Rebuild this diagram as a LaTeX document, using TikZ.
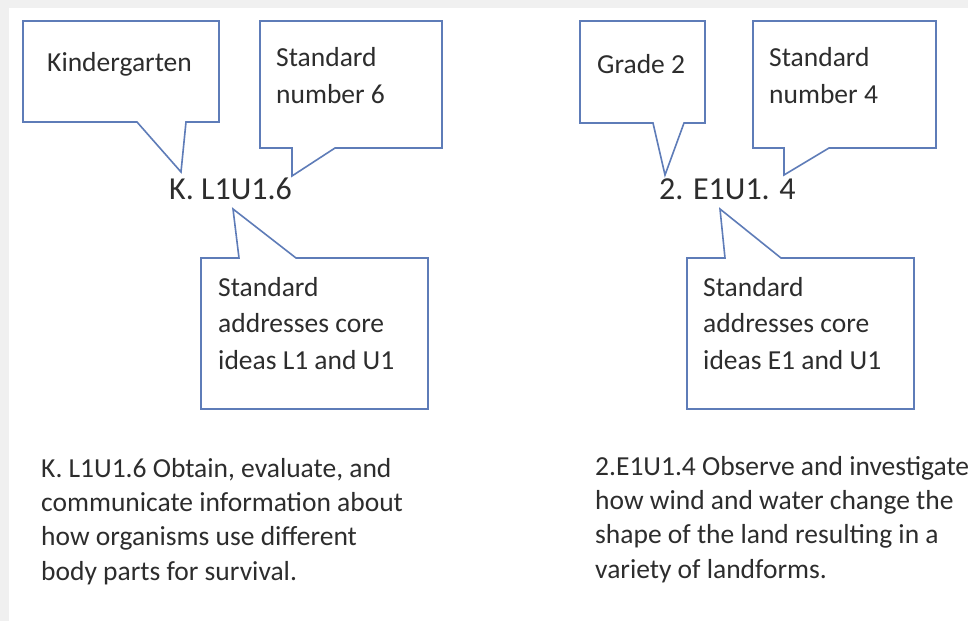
\documentclass[tikz,border=0pt]{standalone}
\usepackage{fontspec}
\setmainfont{Carlito}
\definecolor{lineblue}{RGB}{94,124,184}
\definecolor{txt}{RGB}{45,45,45}
\definecolor{framegray}{RGB}{240,240,240}
\begin{document}
\begin{tikzpicture}[x=1pt,y=-1pt,
  callout/.style={draw=lineblue, line width=1.6pt, line join=miter, fill=white},
  boxtext/.style={inner sep=0pt, anchor=base west, align=left, text=txt, font=\fontsize{27.5}{36.5}\selectfont},
  codetext/.style={inner sep=0pt, anchor=base west, text=txt, font=\fontsize{32}{38}\selectfont},
  bodytext/.style={inner sep=0pt, anchor=base west, align=left, text=txt, font=\fontsize{27.5}{34.3}\selectfont}]
\useasboundingbox (0,0) rectangle (968,621);
% page frame
\fill[framegray] (0,0) rectangle (968,621);
\fill[white] (9,8) rectangle (968,621);
% pointer tips
\coordinate (t1) at (181,172);
\coordinate (t2) at (292,176);
\coordinate (t3) at (233,209);
\coordinate (t4) at (665,175);
\coordinate (t5) at (784,175);
\coordinate (t6) at (720,209);
% left group callouts
\draw[callout] (23,21) -- (219,21) -- (219,122) -- (186,122) -- (t1) -- (137,122) -- (23,122) -- cycle;
\draw[callout] (260,21) -- (442,21) -- (442,148) -- (335,148) -- (t2) -- (292,148) -- (260,148) -- cycle;
\draw[callout] (201,258) -- (239,258) -- (t3) -- (296,258) -- (428,258) -- (428,409) -- (201,409) -- cycle;
% right group callouts
\draw[callout] (580,21) -- (705,21) -- (705,123) -- (684,123) -- (t4) -- (653,123) -- (580,123) -- cycle;
\draw[callout] (753,21) -- (936,21) -- (936,148) -- (829,148) -- (t5) -- (784,148) -- (753,148) -- cycle;
\draw[callout] (687,258) -- (725,258) -- (t6) -- (781,258) -- (914,258) -- (914,409) -- (687,409) -- cycle;
% callout texts (base anchor = baseline of the last line)
\node[boxtext] (kg) at (47,71) {Kindergarten};
\node[boxtext] (sn6) at (276,103) {Standard\\number 6};
\node[boxtext] (core1) at (218,369) {Standard\\addresses core\\ideas L1 and U1};
\node[boxtext] (g2) at (597,73) {Grade 2};
\node[boxtext] (sn4) at (769,103) {Standard\\number 4};
\node[boxtext] (core2) at (703,369) {Standard\\addresses core\\ideas E1 and U1};
% codes
\node[codetext] (code1) at (169,199) {K. L1U1.6};
\node[codetext] (code2) at (659,199) {2. E1U1. 4};
% body texts
\node[bodytext] (body1) at (41,580) {K. L1U1.6 Obtain, evaluate, and\\communicate information about\\how organisms use different\\body parts for survival.};
\node[bodytext] (body2) at (595,578) {2.E1U1.4 Observe and investigate\\how wind and water change the\\shape of the land resulting in a\\variety of landforms.};
\end{tikzpicture}
\end{document}
